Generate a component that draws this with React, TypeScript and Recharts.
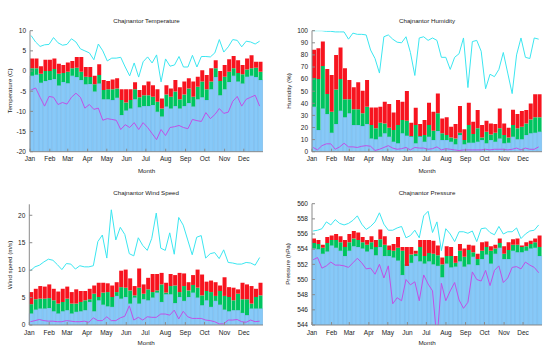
import React from 'react';
import { ComposedChart, Bar, Line, XAxis, YAxis } from 'recharts';

const MONTHS = ['Jan', 'Feb', 'Mar', 'Apr', 'May', 'Jun', 'Jul', 'Aug', 'Sep', 'Oct', 'Nov', 'Dec'];
const MONTH_START_DAYS = [0, 31, 59, 90, 120, 151, 181, 212, 243, 273, 304, 334];
const WEEK_COUNT = 52;

// Temperature (C)
const tempQ1 = [-1.2, -0.9, -2.9, -2.5, -2.2, -2.0, -3.6, -2.7, -3.0, -1.2, -1.5, -2.2, -3.3, -3.2, -5.1, -3.1, -7.0, -7.0, -7.2, -6.6, -10.9, -9.8, -9.3, -7.0, -9.0, -8.7, -8.7, -8.4, -10.1, -11.3, -8.8, -9.3, -8.7, -9.3, -8.7, -7.9, -8.8, -7.0, -6.5, -7.2, -4.5, -1.5, -6.0, -4.5, -2.7, -1.2, -2.6, -3.1, -1.4, -1.2, -1.5, -2.2];
const tempQ2 = [0.7, 0.7, -0.7, 0.0, 0.0, 0.5, -0.7, -0.5, -0.2, 0.7, 0.8, -0.2, -1.4, -1.5, -3.3, -1.0, -4.7, -4.5, -4.5, -4.3, -7.2, -7.8, -7.2, -4.5, -6.5, -6.0, -6.0, -6.4, -7.6, -9.3, -5.8, -6.4, -5.1, -7.0, -5.8, -4.3, -6.4, -3.9, -2.6, -4.5, -2.6, 0.7, -2.5, -1.4, -0.2, 0.7, -0.5, -0.8, 0.4, 0.7, 0.8, -0.2];
const tempQ3 = [3.1, 3.1, 1.2, 2.8, 2.8, 3.1, 1.8, 1.5, 2.1, 2.5, 3.5, 3.5, 1.0, 1.0, -1.2, 1.7, -2.2, -2.5, -2.1, -1.8, -4.5, -4.5, -4.5, -2.8, -4.7, -3.5, -2.6, -3.5, -4.5, -6.8, -3.5, -4.3, -2.2, -4.0, -2.6, -1.8, -2.6, -1.4, 0.2, -1.0, 0.7, 2.7, 0.0, 1.5, 2.9, 3.7, 2.7, 1.5, 3.1, 3.9, 2.3, 2.3];
const tempMax = [8.8, 7.2, 6.1, 6.5, 6.6, 8.3, 7.0, 6.4, 6.6, 8.0, 7.2, 5.5, 5.0, 4.5, 2.8, 6.7, 5.0, 2.5, 3.2, 3.2, 3.4, 1.0, -1.2, 2.0, -1.5, 2.3, 3.5, 2.0, 4.0, -2.7, 3.0, 1.2, 1.5, 3.6, 1.0, 1.0, 3.9, 1.0, 3.6, 3.6, 3.5, 4.5, 7.8, 4.7, 6.0, 7.8, 7.6, 6.0, 7.4, 7.2, 6.7, 7.4];
const tempMin = [-4.7, -4.2, -6.5, -8.7, -6.3, -6.5, -8.3, -7.8, -8.2, -6.5, -5.5, -6.5, -9.2, -8.3, -9.5, -9.2, -12.2, -11.8, -12.0, -12.2, -14.5, -13.3, -14.0, -12.8, -14.5, -12.8, -14.0, -15.5, -17.0, -14.5, -16.0, -14.0, -13.8, -13.5, -14.0, -14.3, -12.0, -12.3, -12.5, -10.3, -11.8, -10.8, -9.3, -10.5, -10.2, -7.5, -6.3, -8.7, -7.0, -6.5, -6.0, -8.7];
const tempTicks = [-20, -15, -10, -5, 0, 5, 10];

// Humidity (%)
const humQ1 = [37.2, 17.9, 35.8, 31.1, 15.7, 22.9, 33.9, 28.4, 31.7, 22, 22, 21.2, 22.9, 11, 10.2, 12.4, 15.2, 12.4, 8.3, 6.9, 15.2, 13.2, 12.4, 6.9, 12.4, 8.3, 12.4, 9.6, 17.1, 9.6, 9.6, 8.3, 6.1, 13.8, 6.1, 7.4, 7.4, 8.3, 9.6, 6.9, 9.6, 8.3, 11, 6.9, 7.4, 12.4, 10.2, 10.2, 13.8, 15.2, 15.7, 16.5];
const humQ2 = [61, 60, 70.8, 47.7, 33, 51.5, 60, 43.3, 43.3, 35, 35, 31.7, 37.2, 22, 19.3, 24, 23.4, 19.8, 17.9, 22, 26.2, 25.6, 12.9, 22, 12.9, 13.8, 22, 17.4, 31.7, 15.2, 13.8, 11.8, 11, 15.7, 9.6, 22, 14.6, 19.3, 11.8, 16.5, 14.3, 15.7, 19.3, 13.8, 11.8, 22, 19.3, 20.7, 23.4, 26.7, 28.4, 28.4];
const humQ3 = [84.3, 85.4, 91, 68.3, 63.4, 80, 86.2, 69, 59.2, 53.2, 57.3, 50.4, 59.2, 36.6, 36.6, 37.2, 41.3, 39.4, 32.5, 42.7, 41.3, 50.1, 24, 36.4, 22.9, 26.2, 40.5, 33.1, 48.2, 27.5, 28.4, 20.7, 22.9, 37.7, 18.5, 40.5, 24.8, 34.4, 22, 25.6, 23.4, 22.9, 35.8, 23.4, 19.8, 34.7, 31.1, 33.6, 34.4, 39.9, 47.4, 47.4];
const humMax = [100, 100, 100, 99.5, 99.5, 99, 99, 99, 93, 98, 97, 97, 96.5, 84, 77, 65, 95, 96.5, 93, 90.5, 90, 95, 82, 63, 94, 95, 92, 94, 92, 78, 78, 68, 78, 81, 94, 53, 91, 92, 83, 52, 64, 62, 68, 82, 65, 48, 80, 94, 78, 77, 94, 93];
const humMin = [3.5, 1.5, 5, 6.5, 6.5, 2, 4, 7, 4, 4, 3.5, 4.5, 5, 4.5, 1, 2, 3.5, 5, 3, 2, 2.5, 3.5, 1.5, 3.5, 3, 3, 2, 2.5, 4, 1.5, 2.5, 2, 1.5, 1, 1.5, 1.5, 1.5, 1.5, 1.5, 2, 1.5, 2, 2, 2, 1.5, 2, 3, 1.5, 3, 2, 2, 4];
const humTicks = [0, 10, 20, 30, 40, 50, 60, 70, 80, 90, 100];

// Wind speed (m/s)
const windQ1 = [2.1, 2.8, 3.0, 3.0, 3.1, 2.5, 2.1, 2.5, 2.7, 2.1, 2.4, 2.5, 2.7, 4.2, 2.5, 4.5, 3.7, 3.4, 3.3, 5.3, 4.8, 5.1, 3.9, 5.0, 3.9, 4.7, 4.5, 5.0, 5.9, 4.2, 5.6, 5.6, 4.0, 5.1, 4.4, 5.1, 5.9, 5.0, 3.6, 4.5, 3.3, 4.4, 3.7, 2.8, 2.5, 2.7, 2.7, 2.2, 1.8, 3.0, 3.0, 3.0];
const windQ2 = [3.8, 4.7, 4.8, 4.8, 4.9, 4.5, 3.9, 4.2, 4.8, 3.9, 3.9, 4.2, 4.5, 4.7, 5.7, 5.1, 5.9, 6.0, 5.1, 6.0, 6.9, 6.8, 6.3, 5.4, 6.8, 5.7, 6.5, 6.0, 6.3, 7.4, 5.9, 7.1, 7.2, 6.0, 7.1, 6.3, 7.3, 6.8, 5.4, 6.2, 6.0, 5.3, 6.2, 5.3, 5.1, 4.5, 5.7, 4.7, 4.7, 3.9, 5.1, 5.4];
const windQ3 = [6.0, 6.6, 7.1, 7.0, 7.4, 6.6, 6.1, 6.6, 7.0, 6.0, 6.5, 6.2, 6.2, 6.6, 7.2, 7.7, 7.7, 7.6, 7.2, 7.8, 9.9, 10.1, 8.5, 7.1, 10.3, 7.4, 8.6, 9.3, 9.3, 9.5, 7.7, 9.3, 9.1, 9.5, 9.4, 7.8, 9.1, 10.1, 9.2, 7.9, 8.1, 7.8, 7.2, 8.7, 6.9, 6.8, 6.5, 7.7, 7.4, 7.1, 6.6, 7.7];
const windMax = [9.9, 10.6, 10.9, 11.5, 12, 11.8, 11, 10.1, 11.2, 11.1, 10.2, 10.8, 10.6, 10.6, 10.8, 15.2, 16.4, 12.2, 21, 15.5, 17.8, 16.5, 13, 12.6, 15.9, 14.5, 13.6, 15.8, 20.4, 14, 13.6, 16.8, 12.9, 19.6, 18.2, 15.5, 12.8, 16, 16.3, 12.2, 13, 13.2, 12.1, 13.7, 11.4, 11.3, 11.1, 11.1, 11.4, 11.3, 10.9, 12.3];
const windMin = [0.6, 0.8, 1.0, 0.8, 0.7, 0.7, 0.6, 0.6, 0.8, 0.7, 0.6, 0.6, 0.7, 0.5, 1.3, 0.8, 0.8, 1.5, 0.8, 0.8, 1.3, 1.6, 3.5, 0.9, 1.4, 0.9, 1.5, 1.4, 1.4, 2.0, 2.0, 1.8, 2.7, 1.1, 2.5, 1.5, 1.2, 1.2, 1.2, 0.9, 0.8, 0.6, 0.2, 0.2, 0.9, 0.9, 1.0, 0.6, 0.5, 0.9, 0.6, 0.7];
const windTicks = [0, 5, 10, 15, 20];

// Pressure (hPa)
const presQ1 = [554.1, 554.0, 553.4, 553.7, 554.5, 554.2, 553.8, 553.1, 553.8, 554.4, 554.3, 554.1, 553.7, 554.0, 553.2, 554.3, 553.1, 553.1, 552.9, 552.5, 550.6, 552.0, 552.2, 553.1, 552.4, 552.1, 552.4, 552.0, 551.8, 550.3, 552.1, 551.6, 551.7, 552.4, 551.7, 552.0, 553.0, 551.9, 552.7, 553.3, 552.1, 553.4, 554.2, 552.7, 552.7, 553.8, 553.6, 553.6, 553.8, 554.1, 554.2, 553.1];
const presQ2 = [554.8, 554.7, 554.2, 554.8, 555.2, 555.2, 554.9, 554.3, 554.9, 555.4, 555.2, 554.9, 554.6, 554.9, 554.3, 555.3, 554.6, 553.9, 553.8, 554.2, 553.8, 551.8, 553.3, 553.4, 554.3, 553.1, 553.5, 553.4, 553.2, 552.0, 553.1, 553.1, 552.2, 553.8, 553.0, 553.9, 553.6, 552.7, 553.8, 554.3, 553.8, 554.1, 554.8, 553.4, 553.9, 554.6, 554.6, 554.3, 554.4, 554.7, 554.9, 554.3];
const presQ3 = [555.4, 555.2, 554.6, 555.6, 555.8, 556.0, 555.7, 555.2, 556.0, 556.4, 556.2, 555.6, 555.2, 555.7, 555.2, 556.6, 555.7, 554.5, 554.7, 555.6, 554.3, 554.3, 554.3, 553.8, 555.2, 555.2, 555.2, 555.1, 554.5, 552.9, 554.4, 554.3, 553.1, 554.7, 554.1, 554.6, 554.5, 553.4, 554.9, 555.0, 554.4, 554.6, 555.4, 554.4, 554.9, 555.3, 555.4, 554.5, 554.9, 555.1, 555.4, 555.8];
const presMax = [556.4, 556.5, 556.7, 557.6, 557.2, 557.9, 557.4, 557.2, 557.4, 557.8, 558.4, 557.3, 556.6, 557.0, 557.6, 558.8, 557.3, 556.5, 556.5, 556.8, 557.0, 555.5, 555.8, 556.5, 555.5, 558.4, 559.0, 556.2, 557.6, 553.8, 556.7, 556.0, 555.0, 556.3, 556.3, 556.1, 556.4, 555.0, 556.7, 556.8, 556.2, 555.9, 557.0, 556.0, 556.3, 556.3, 556.8, 555.4, 556.0, 556.4, 556.5, 557.2];
const presMin = [552.6, 552.9, 551.5, 551.8, 552.3, 551.9, 551.9, 551.8, 551.6, 552.2, 552.8, 552.2, 551.4, 551.5, 550.7, 552.0, 550.2, 551.8, 546.8, 547.6, 547.2, 550.0, 549.3, 549.7, 547.2, 550.6, 549.4, 548.5, 542.0, 549.5, 547.2, 548.5, 549.6, 547.3, 546.2, 547.0, 551.0, 550.0, 549.8, 551.2, 549.2, 551.2, 551.8, 549.6, 550.2, 551.6, 551.7, 551.4, 552.3, 551.9, 551.6, 550.9];
const presTicks = [544, 546, 548, 550, 552, 554, 556, 558, 560];

const BLUE = '#87c9f8';
const BLUE_EDGE = '#6cb3ea';
const GREEN = '#00c460';
const RED = '#f7141f';
const CYAN = '#3ce6f0';
const PURPLE = '#c050e6';
const FRAME = '#8a8a8a';
const TEXT = '#1a1a1a';
const FONT = '"Liberation Sans", Arial, Helvetica, sans-serif';

const W = 279;
const H = 176;
const monthTicks = MONTH_START_DAYS.map((d) => d / 7);

type PanelProps = {
  title: string;
  yLabel: string;
  q1: number[];
  q2: number[];
  q3: number[];
  max: number[];
  min: number[];
  domain: [number, number];
  ticks: number[];
  left: number;
  top: number;
  plot: { l: number; r: number; t: number; b: number };
  titleY: number;
  monthY: number;
  yLabelX: number;
};

function Panel(p: PanelProps) {
  const lo = p.domain[0];
  const data = Array.from({ length: WEEK_COUNT }, (_, i) => ({
    w: i + 1,
    xl: i + 0.25,
    q1: p.q1[i],
    q2: p.q2[i],
    q3: p.q3[i],
    max: p.max[i],
    min: p.min[i],
  }));
  const fmt = (v: number) => {
    const idx = monthTicks.findIndex((t) => Math.abs(t - v) < 1e-6);
    return idx >= 0 ? MONTHS[idx] : '';
  };
  const plotCx = (p.plot.l + p.plot.r) / 2;
  const plotCy = (p.plot.t + p.plot.b) / 2;
  return (
    <div style={{ position: 'absolute', left: p.left, top: p.top, width: W, height: H }}>
      <ComposedChart
        width={W}
        height={H}
        data={data}
        margin={{ top: p.plot.t, right: W - p.plot.r, bottom: 0, left: 0 }}
        barCategoryGap={0}
        barGap={0}
      >
        <XAxis xAxisId="b1" dataKey="w" type="category" hide height={0} />
        <XAxis xAxisId="b2" dataKey="w" type="category" hide height={0} />
        <XAxis xAxisId="b3" dataKey="w" type="category" hide height={0} />
        <XAxis
          xAxisId="m"
          dataKey="xl"
          type="number"
          domain={[0, WEEK_COUNT]}
          ticks={monthTicks}
          tickFormatter={fmt}
          interval={0}
          height={H - p.plot.b}
          tickSize={-3}
          tickMargin={8}
          allowDataOverflow
          stroke={FRAME}
          tick={{ fill: TEXT, fontSize: 6.5 }}
        />
        <XAxis
          xAxisId="top"
          orientation="top"
          dataKey="xl"
          type="number"
          domain={[0, WEEK_COUNT]}
          ticks={monthTicks}
          interval={0}
          height={0}
          tickSize={-3}
          tick={false}
          allowDataOverflow
          stroke={FRAME}
        />
        <YAxis
          yAxisId="y"
          type="number"
          domain={p.domain}
          ticks={p.ticks}
          interval={0}
          width={p.plot.l}
          tickSize={-3}
          tickMargin={7}
          allowDataOverflow
          stroke={FRAME}
          tick={{ fill: TEXT, fontSize: 6.5 }}
        />
        <YAxis
          yAxisId="r"
          orientation="right"
          type="number"
          domain={p.domain}
          ticks={p.ticks}
          interval={0}
          width={0}
          tickSize={-3}
          tick={false}
          allowDataOverflow
          stroke={FRAME}
        />
        <Bar
          xAxisId="b1"
          yAxisId="y"
          dataKey={(d: any) => [lo, d.q1]}
          fill={BLUE}
          stroke={BLUE_EDGE}
          strokeWidth={0.6}
          isAnimationActive={false}
        />
        <Bar
          xAxisId="b2"
          yAxisId="y"
          dataKey={(d: any) => [d.q1, d.q2]}
          fill={GREEN}
          isAnimationActive={false}
        />
        <Bar
          xAxisId="b3"
          yAxisId="y"
          dataKey={(d: any) => [d.q2, d.q3]}
          fill={RED}
          isAnimationActive={false}
        />
        <Line
          xAxisId="m"
          yAxisId="y"
          type="linear"
          dataKey="max"
          stroke={CYAN}
          strokeWidth={1}
          dot={false}
          isAnimationActive={false}
        />
        <Line
          xAxisId="m"
          yAxisId="y"
          type="linear"
          dataKey="min"
          stroke={PURPLE}
          strokeWidth={1}
          dot={false}
          isAnimationActive={false}
        />
      </ComposedChart>
      <div
        style={{
          position: 'absolute',
          left: plotCx,
          top: p.titleY,
          transform: 'translate(-50%, -50%)',
          fontSize: 6.2,
          color: TEXT,
          whiteSpace: 'nowrap',
        }}
      >
        {p.title}
      </div>
      <div
        style={{
          position: 'absolute',
          left: plotCx,
          top: p.monthY,
          transform: 'translate(-50%, -50%)',
          fontSize: 6.2,
          color: TEXT,
          whiteSpace: 'nowrap',
        }}
      >
        Month
      </div>
      <div
        style={{
          position: 'absolute',
          left: p.yLabelX,
          top: plotCy,
          transform: 'translate(-50%, -50%) rotate(-90deg)',
          fontSize: 6.2,
          color: TEXT,
          whiteSpace: 'nowrap',
        }}
      >
        {p.yLabel}
      </div>
    </div>
  );
}

export default function App() {
  return (
    <div
      style={{
        position: 'absolute',
        left: 0,
        top: 0,
        width: 558,
        height: 352,
        background: '#ffffff',
        fontFamily: FONT,
        overflow: 'hidden',
      }}
    >
      <Panel
        title="Chajnantor Temperature"
        yLabel="Temperature (C)"
        q1={tempQ1}
        q2={tempQ2}
        q3={tempQ3}
        max={tempMax}
        min={tempMin}
        domain={[-20, 10]}
        ticks={tempTicks}
        left={0}
        top={0}
        plot={{ l: 30, r: 263, t: 30.7, b: 151.7 }}
        titleY={20}
        monthY={170}
        yLabelX={9}
      />
      <Panel
        title="Chajnantor Humidity"
        yLabel="Humidity (%)"
        q1={humQ1}
        q2={humQ2}
        q3={humQ3}
        max={humMax}
        min={humMin}
        domain={[0, 100]}
        ticks={humTicks}
        left={279}
        top={0}
        plot={{ l: 33, r: 263, t: 30.7, b: 151.7 }}
        titleY={20}
        monthY={170}
        yLabelX={9}
      />
      <Panel
        title="Chajnantor Wind Speed"
        yLabel="Wind speed (m/s)"
        q1={windQ1}
        q2={windQ2}
        q3={windQ3}
        max={windMax}
        min={windMin}
        domain={[0, 22]}
        ticks={windTicks}
        left={0}
        top={176}
        plot={{ l: 29.3, r: 263, t: 28.3, b: 149 }}
        titleY={16}
        monthY={165.7}
        yLabelX={9}
      />
      <Panel
        title="Chajnantor Pressure"
        yLabel="Pressure (hPa)"
        q1={presQ1}
        q2={presQ2}
        q3={presQ3}
        max={presMax}
        min={presMin}
        domain={[544, 560]}
        ticks={presTicks}
        left={279}
        top={176}
        plot={{ l: 33, r: 263, t: 27.7, b: 149 }}
        titleY={16}
        monthY={165.7}
        yLabelX={8}
      />
    </div>
  );
}
